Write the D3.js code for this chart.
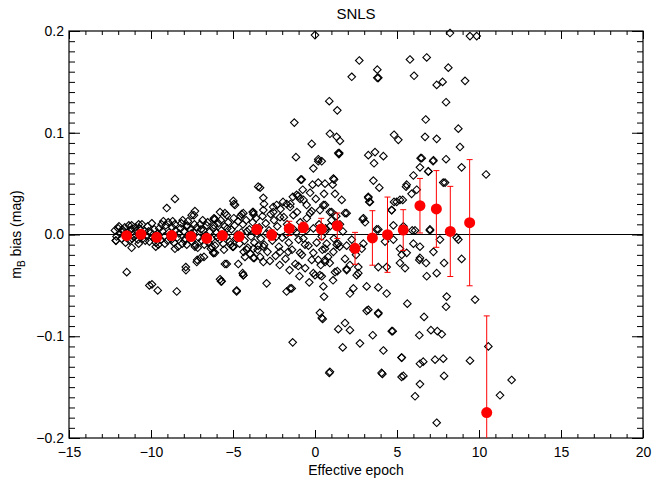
<!DOCTYPE html>
<html>
<head>
<meta charset="utf-8">
<script src="https://cdn.jsdelivr.net/npm/d3@7"></script>
<style>
  body { margin: 0; background: #fff; }
  svg { display: block; font-family: 'Liberation Sans', Arial, sans-serif; }
</style>
</head>
<body>
<div class="svg-container"></div>
<script>
// binned means (red) with their errors
const binEpoch = [-11.48, -10.61, -9.65, -8.74, -7.56, -6.60, -5.65, -4.63, -3.55, -2.64, -1.57, -0.71,
  0.38, 1.36, 2.44, 3.50, 4.42, 5.38, 6.40, 7.40, 8.25, 9.43, 10.47]
const binBias = [-0.0012, 0.0002, -0.0028, -0.0010, -0.0020, -0.0038, -0.0010, -0.0020, 0.0050, -0.0005, 0.0060, 0.0070,
  0.0054, 0.0086, -0.0136, -0.0034, -0.0002, 0.0044, 0.0283, 0.0251, 0.0030, 0.0116, -0.1750]
const binError = [0.002, 0.002, 0.002, 0.002, 0.002, 0.003, 0.003, 0.003, 0.004, 0.005, 0.007, 0.005,
  0.0105, 0.0125, 0.0157, 0.0268, 0.0370, 0.0200, 0.0268, 0.0377, 0.0443, 0.0620, 0.0950]

// individual supernovae, dense band at early epochs
const bandPoints = [
  [-12.2, 0.004], [-12.1, -0.002], [-12.0, 0.006], [-11.9, 0.001], [-11.8, -0.004], [-11.7, 0.003], [-11.6, 0.007],
  [-11.5, -0.003], [-11.4, 0.002], [-11.3, -0.006], [-11.2, 0.005], [-11.1, 0.000], [-11.0, -0.002], [-10.9, 0.004],
  [-10.8, -0.005], [-10.7, 0.006], [-10.6, 0.001], [-10.5, -0.004], [-10.4, 0.003], [-10.3, -0.001], [-10.2, 0.008],
  [-10.1, -0.007], [-10.0, 0.002], [-9.9, -0.003], [-9.8, 0.005], [-9.7, -0.008], [-9.6, 0.001], [-9.5, 0.006],
  [-9.4, -0.005], [-9.3, 0.003], [-9.2, -0.002], [-9.1, 0.009], [-9.0, -0.006], [-8.9, 0.002], [-8.8, -0.001],
  [-8.7, 0.007], [-8.6, -0.008], [-8.5, 0.004], [-8.4, -0.003], [-8.3, 0.001], [-8.2, 0.006], [-8.1, -0.009],
  [-8.0, 0.003], [-7.9, -0.004], [-7.8, 0.008], [-7.7, -0.002], [-7.6, 0.005], [-7.5, -0.007], [-7.4, 0.002],
  [-7.3, -0.010], [-7.2, 0.007], [-7.1, -0.003], [-7.0, 0.010], [-6.9, -0.006], [-6.8, 0.004], [-6.7, -0.001],
  [-6.6, 0.009], [-6.5, -0.008], [-6.4, 0.003], [-6.3, -0.004], [-6.2, 0.006], [-6.1, -0.011], [-6.0, 0.002],
  [-5.9, 0.011], [-5.8, -0.005], [-5.7, 0.004], [-5.6, -0.009], [-5.5, 0.008], [-5.4, -0.002], [-5.3, 0.012],
  [-5.2, -0.007], [-5.1, 0.005], [-5.0, -0.012], [-4.9, 0.009], [-4.8, -0.004], [-4.7, 0.013], [-4.6, -0.009],
  [-4.5, 0.002], [-4.4, 0.010], [-4.3, -0.006], [-4.2, 0.014], [-4.1, -0.013], [-4.0, 0.005], [-3.9, -0.002],
  [-3.8, 0.012], [-3.7, -0.008], [-3.6, 0.016], [-3.5, -0.015], [-3.4, 0.007], [-3.3, -0.004], [-3.2, 0.018],
  [-3.1, -0.010], [-3.0, 0.011], [-2.9, -0.017], [-2.8, 0.004], [-2.7, 0.020], [-2.6, -0.006], [-2.5, 0.014],
  [-2.4, -0.021], [-2.3, 0.008], [-2.2, -0.012], [-2.1, 0.025], [-2.0, -0.003], [-1.9, 0.017], [-1.8, -0.024],
  [-1.7, 0.010], [-1.6, -0.008], [-1.5, 0.030], [-1.4, -0.015], [-1.3, 0.005], [-1.2, -0.029], [-1.1, 0.022],
  [-1.0, -0.005], [-0.9, 0.012], [-0.8, -0.020], [-0.7, 0.034], [-0.6, -0.033], [-0.5, 0.016], [-0.4, -0.011],
  [-0.3, 0.041], [-0.2, -0.025], [-0.1, 0.006], [0.0, -0.040],
  [-12.15, -0.006], [-11.95, 0.008], [-11.75, 0.005], [-11.55, -0.008], [-11.35, 0.009], [-11.15, -0.004],
  [-10.95, 0.007], [-10.75, -0.009], [-10.55, 0.010], [-10.35, -0.006], [-10.15, 0.003], [-9.95, 0.011],
  [-9.75, -0.004], [-9.55, -0.010], [-9.35, 0.010], [-9.15, -0.009], [-8.95, 0.012], [-8.75, -0.005],
  [-8.55, 0.010], [-8.35, -0.012], [-8.15, 0.011], [-7.95, -0.006], [-7.75, 0.013], [-7.55, 0.001],
  [-7.35, 0.010], [-7.15, -0.013], [-6.95, 0.005], [-6.75, -0.010], [-6.55, 0.012], [-6.35, -0.014],
  [-6.15, 0.009], [-5.95, -0.003], [-5.75, 0.014], [-5.55, -0.015], [-5.35, 0.006], [-5.15, -0.010],
  [-4.95, 0.016], [-4.75, 0.000], [-4.55, 0.018], [-4.35, -0.017], [-4.15, 0.003], [-3.95, -0.019],
  [-3.75, 0.020], [-3.55, 0.001], [-3.35, -0.022], [-3.15, 0.024], [-2.95, 0.001], [-2.75, -0.026],
  [-2.55, 0.027], [-2.35, -0.002], [-2.15, -0.030], [-1.95, 0.032], [-1.75, 0.000], [-1.55, -0.035],
  [-1.35, 0.037], [-1.15, 0.002], [-0.95, -0.041], [-0.75, 0.044], [-0.55, 0.004], [-0.35, -0.047], [-0.15, 0.049]
]

// early epochs, away from the band
const earlyPoints = [
  [-8.54, 0.035], [-9.04, 0.026], [-7.32, 0.023], [-6.85, 0.014], [-6.16, 0.015], [-4.98, 0.033], [-4.88, 0.029],
  [-4.47, 0.020], [-5.38, 0.019], [-5.79, 0.022], [-3.80, 0.022], [-3.46, 0.047], [-8.07, 0.014], [-7.52, 0.019],
  [-9.25, 0.013], [-10.75, 0.010], [-11.18, 0.009], [-7.38, 0.019], [-6.10, 0.015], [-7.79, 0.009], [-8.68, 0.013],
  [-12.13, -0.006], [-11.18, -0.013], [-11.48, -0.037], [-9.71, -0.012], [-8.54, -0.014], [-7.82, -0.010],
  [-7.88, -0.032], [-7.32, -0.012], [-7.18, -0.025], [-6.77, -0.022], [-6.20, -0.018], [-5.79, -0.044],
  [-5.02, -0.012], [-5.38, -0.029], [-4.41, -0.038], [-4.27, -0.022], [-4.16, -0.015], [-3.70, -0.023],
  [-3.46, -0.011], [-10.10, -0.050], [-9.59, -0.055], [-8.43, -0.056], [-7.87, -0.035], [-5.73, -0.046],
  [-4.78, -0.055], [-4.37, -0.040], [-6.97, -0.023], [-7.21, -0.027], [-6.30, -0.012], [-6.10, -0.018],
  [-9.94, -0.049],
  [-0.10, 0.065], [-0.87, 0.054], [-3.35, 0.046], [-3.15, 0.036], [-4.94, 0.030], [-3.11, 0.030], [-2.34, 0.029],
  [-1.02, 0.038], [-1.73, 0.030], [-1.52, 0.027], [-0.51, 0.029], [-6.16, 0.016], [-5.49, 0.021], [-4.37, 0.021],
  [-3.76, 0.022], [-2.54, 0.022], [-2.13, 0.017], [-1.32, 0.019], [-0.30, 0.021],
  [-4.98, -0.012], [-6.20, -0.018], [-3.76, -0.014], [-3.15, -0.012], [-5.49, -0.029], [-4.68, -0.029],
  [-3.76, -0.023], [-3.15, -0.027], [-4.37, -0.040], [-5.69, -0.046], [-4.78, -0.056], [-2.95, -0.048],
  [-2.13, -0.017], [-1.63, -0.017], [-1.02, -0.031], [-0.10, -0.018], [-0.10, -0.038], [-1.52, -0.053],
  [-0.71, -0.004], [-0.61, -0.010], [-0.91, -0.018], [-1.26, 0.110], [-0.20, 0.089], [-1.16, 0.076],
  [-1.12, 0.039], [-0.91, 0.035], [-0.81, 0.054], [-0.20, 0.023], [-1.36, -0.106], [-1.73, -0.056], [-1.42, -0.053]
]

// late epochs, wide scatter
const latePoints = [
  [0.0, 0.196], [8.23, 0.198], [9.45, 0.195], [9.86, 0.195], [2.70, 0.171], [5.79, 0.172], [6.81, 0.174],
  [3.80, 0.162], [3.80, 0.154], [3.86, 0.154], [2.24, 0.155], [6.04, 0.156], [8.13, 0.164], [7.42, 0.147],
  [7.78, 0.150], [9.15, 0.151], [7.99, 0.130], [0.87, 0.131], [1.36, 0.122], [6.75, 0.113], [8.74, 0.104],
  [0.91, 0.099], [1.32, 0.096], [1.52, 0.092], [1.46, 0.079], [4.82, 0.098], [5.08, 0.093], [6.71, 0.096],
  [7.42, 0.094], [8.84, 0.086], [3.25, 0.078], [3.66, 0.081], [4.17, 0.077], [3.60, 0.070], [6.44, 0.075],
  [7.22, 0.073], [7.99, 0.074], [6.40, 0.066], [6.91, 0.062], [8.94, 0.066], [10.43, 0.059], [0.41, 0.072],
  [1.12, 0.055], [0.61, 0.050], [1.08, 0.049], [3.56, 0.053], [3.92, 0.046], [5.55, 0.047], [5.89, 0.040],
  [6.20, 0.044], [7.82, 0.051], [1.22, 0.040], [1.63, 0.034], [0.61, 0.029], [3.25, 0.036], [3.31, 0.032],
  [4.82, 0.032], [5.18, 0.034], [4.67, 0.024], [2.91, 0.015], [3.05, 0.012], [1.02, 0.022], [1.83, 0.021],
  [0.91, 0.008], [1.52, 0.010], [0.61, 0.003], [2.24, -0.005], [2.34, -0.015], [2.95, -0.009], [3.76, 0.005],
  [4.78, 0.009], [5.39, 0.008], [6.10, 0.004], [7.01, 0.004], [8.64, -0.003], [8.74, -0.005], [0.41, -0.002],
  [0.71, -0.009], [1.32, -0.010], [1.12, -0.017], [0.61, -0.025], [1.83, -0.024], [2.13, -0.030], [1.93, -0.034],
  [2.64, -0.032], [2.54, -0.040], [1.36, -0.036], [0.41, -0.041], [1.22, -0.037], [4.37, -0.032], [5.18, -0.028],
  [5.49, -0.033], [5.59, -0.018], [5.18, -0.014], [6.36, -0.025], [6.77, -0.028], [7.22, -0.017], [7.87, -0.028],
  [8.94, -0.024], [6.81, -0.041], [7.42, -0.038], [0.51, -0.051], [0.55, -0.061], [2.34, -0.053], [2.13, -0.058],
  [3.15, -0.051], [3.86, -0.052], [4.37, -0.058], [8.03, -0.061], [7.99, -0.071], [9.76, -0.064], [3.25, -0.074],
  [3.86, -0.078], [5.63, -0.068], [6.65, -0.081], [0.41, -0.082], [1.83, -0.087], [1.42, -0.093], [2.13, -0.094],
  [3.52, -0.099], [4.74, -0.095], [6.36, -0.099], [7.07, -0.094], [7.46, -0.095], [2.74, -0.107], [1.69, -0.111],
  [4.17, -0.114], [5.28, -0.121], [6.40, -0.127], [7.32, -0.123], [7.82, -0.122], [9.45, -0.124], [0.91, -0.135],
  [4.06, -0.136], [5.28, -0.140], [7.87, -0.139], [6.40, -0.147], [6.10, -0.159], [7.42, -0.185], [10.57, -0.110],
  [7.73, -0.098], [11.99, -0.143], [11.28, -0.158], [0.30, -0.077], [0.47, -0.083], [0.87, -0.136], [3.15, -0.075],
  [3.86, -0.077], [4.11, -0.137], [5.39, -0.139], [4.68, -0.095], [5.29, -0.121], [6.60, -0.125],
  [0.61, -0.014], [1.42, -0.009], [0.91, 0.022], [1.93, 0.021], [1.93, -0.011], [2.85, -0.014], [2.50, -0.020],
  [1.93, -0.035], [2.64, -0.038], [3.86, -0.032], [4.27, -0.007], [4.78, -0.005], [5.29, -0.020], [6.00, -0.009],
  [6.40, -0.012], [6.40, -0.023], [3.25, 0.037], [3.35, 0.032], [2.95, 0.016], [3.86, 0.005], [4.98, 0.032],
  [5.35, 0.034], [4.68, 0.024], [6.51, 0.075], [7.20, 0.072], [6.00, 0.058], [6.91, 0.062], [5.59, 0.049],
  [7.93, 0.051], [7.01, 0.005], [5.93, 0.004], [7.62, -0.005], [1.42, 0.080], [0.20, 0.072], [0.20, 0.051],
  [1.16, 0.054], [0.30, 0.024], [0.20, -0.025], [0.30, -0.040], [0.61, -0.027], [0.51, 0.029], [0.20, 0.074],
  [1.48, 0.080], [0.10, -0.008], [0.25, 0.010], [0.45, -0.015], [0.65, 0.006], [0.80, -0.022], [1.00, 0.014],
  [1.15, -0.004], [1.30, 0.018], [1.50, -0.012], [1.70, 0.003], [0.35, -0.030], [0.90, -0.028], [1.10, -0.045],
  [0.05, 0.035], [0.55, 0.040]
]

const xMajor = [-15, -10, -5, 0, 5, 10, 15, 20]
const yMajor = [-0.2, -0.1, 0.0, 0.1, 0.2]

const svgWidth = 653
const svgHeight = 481
const margin = { top: 31, right: 10, bottom: 43, left: 69 }
const plotRight = svgWidth - margin.right
const plotBottom = svgHeight - margin.bottom

const svg = d3
  .select('.svg-container')
  .append('svg')
  .attr('width', svgWidth)
  .attr('height', svgHeight)

const xScale = d3.scaleLinear([-15, 20], [margin.left, plotRight])
const yScale = d3.scaleLinear([-0.2, 0.2], [plotBottom, margin.top])

svg.append('clipPath')
  .attr('id', 'plot-clip')
  .append('rect')
  .attr('x', margin.left)
  .attr('y', margin.top)
  .attr('width', plotRight - margin.left)
  .attr('height', plotBottom - margin.top)

const xMinor = d3.range(-15, 21, 1)
const yMinor = d3.range(-20, 21, 1).map((d) => d / 100)
const fmtX = d3.format('d')
const fmtY = d3.format('.1f')

function drawAxis(axis, transform) {
  const g = svg.append('g')
    .attr('transform', transform)
    .call(axis)
  g.select('.domain').remove()
  g.selectAll('line').attr('stroke', '#000').attr('stroke-width', 1)
  g.selectAll('text')
    .attr('fill', '#000')
    .style('font-size', '14px')
    .style('font-family', "'Liberation Sans', Arial, sans-serif")
  return g
}

// x axes, bottom with labels and top without
drawAxis(d3.axisBottom(xScale).tickValues(xMajor).tickSize(-8).tickSizeOuter(0).tickPadding(9).tickFormat(fmtX),
  `translate(0, ${plotBottom})`)
drawAxis(d3.axisBottom(xScale).tickValues(xMinor).tickSize(-4).tickSizeOuter(0).tickFormat(''),
  `translate(0, ${plotBottom})`)
drawAxis(d3.axisTop(xScale).tickValues(xMajor).tickSize(-8).tickSizeOuter(0).tickFormat(''),
  `translate(0, ${margin.top})`)
drawAxis(d3.axisTop(xScale).tickValues(xMinor).tickSize(-4).tickSizeOuter(0).tickFormat(''),
  `translate(0, ${margin.top})`)

// y axes
drawAxis(d3.axisLeft(yScale).tickValues(yMajor).tickSize(-11).tickSizeOuter(0).tickPadding(5).tickFormat(fmtY),
  `translate(${margin.left}, 0)`)
drawAxis(d3.axisLeft(yScale).tickValues(yMinor).tickSize(-6).tickSizeOuter(0).tickFormat(''),
  `translate(${margin.left}, 0)`)
drawAxis(d3.axisRight(yScale).tickValues(yMajor).tickSize(-11).tickSizeOuter(0).tickFormat(''),
  `translate(${plotRight}, 0)`)
drawAxis(d3.axisRight(yScale).tickValues(yMinor).tickSize(-6).tickSizeOuter(0).tickFormat(''),
  `translate(${plotRight}, 0)`)

// frame
svg.append('rect')
  .attr('x', margin.left)
  .attr('y', margin.top)
  .attr('width', plotRight - margin.left)
  .attr('height', plotBottom - margin.top)
  .attr('fill', 'none')
  .attr('stroke', '#000')
  .attr('stroke-width', 1.2)

// individual points as open diamonds
const points = bandPoints.concat(earlyPoints, latePoints)
const diamond = 'M0,-3.8L3.8,0L0,3.8L-3.8,0Z'
svg.append('g')
  .selectAll('path')
  .data(points)
  .join('path')
  .attr('d', diamond)
  .attr('transform', (d) => `translate(${xScale(d[0])}, ${yScale(d[1])})`)
  .attr('fill', 'none')
  .attr('stroke', '#000')
  .attr('stroke-width', 1.1)

// zero line
svg.append('line')
  .attr('x1', xScale(-15))
  .attr('x2', xScale(20))
  .attr('y1', yScale(0))
  .attr('y2', yScale(0))
  .attr('stroke', '#000')
  .attr('stroke-width', 1)

// binned means with error bars
const bins = binEpoch.map((e, i) => ({ epoch: e, bias: binBias[i], err: binError[i] }))
const bars = svg.append('g')
  .attr('clip-path', 'url(#plot-clip)')
  .attr('stroke', '#ff0000')
  .attr('stroke-width', 1)

bars.selectAll('.bar')
  .data(bins)
  .join('line')
  .classed('bar', true)
  .attr('x1', (d) => xScale(d.epoch))
  .attr('x2', (d) => xScale(d.epoch))
  .attr('y1', (d) => yScale(d.bias + d.err))
  .attr('y2', (d) => yScale(d.bias - d.err))

bars.selectAll('.cap-top')
  .data(bins)
  .join('line')
  .classed('cap-top', true)
  .attr('x1', (d) => xScale(d.epoch) - 3)
  .attr('x2', (d) => xScale(d.epoch) + 3)
  .attr('y1', (d) => yScale(d.bias + d.err))
  .attr('y2', (d) => yScale(d.bias + d.err))

bars.selectAll('.cap-bottom')
  .data(bins)
  .join('line')
  .classed('cap-bottom', true)
  .attr('x1', (d) => xScale(d.epoch) - 3)
  .attr('x2', (d) => xScale(d.epoch) + 3)
  .attr('y1', (d) => yScale(d.bias - d.err))
  .attr('y2', (d) => yScale(d.bias - d.err))

svg.append('g')
  .selectAll('circle')
  .data(bins)
  .join('circle')
  .attr('cx', (d) => xScale(d.epoch))
  .attr('cy', (d) => yScale(d.bias))
  .attr('r', 5.5)
  .attr('fill', '#ff0000')

// titles
svg.append('text')
  .attr('x', (margin.left + plotRight) / 2)
  .attr('y', 19)
  .attr('text-anchor', 'middle')
  .style('font-size', '15px')
  .text('SNLS')

svg.append('text')
  .attr('x', (margin.left + plotRight) / 2)
  .attr('y', 475)
  .attr('text-anchor', 'middle')
  .style('font-size', '14px')
  .text('Effective epoch')

const yLabel = svg.append('text')
  .attr('transform', `translate(21, ${(margin.top + plotBottom) / 2}) rotate(-90)`)
  .attr('text-anchor', 'middle')
  .style('font-size', '14px')
yLabel.append('tspan').text('m')
yLabel.append('tspan').attr('dy', 4).style('font-size', '10px').text('B')
yLabel.append('tspan').attr('dy', -4).text(' bias (mag)')
</script>
</body>
</html>
